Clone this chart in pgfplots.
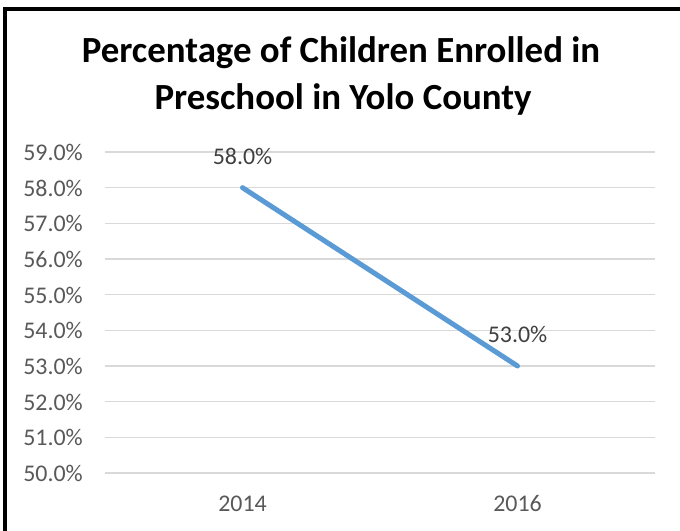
\documentclass[border=0pt]{standalone}
\usepackage{pgfplots}
\pgfplotsset{compat=1.18}
\usepackage{fontspec}
\setmainfont{Carlito}
\definecolor{exblue}{HTML}{5B9BD5}
\definecolor{gridc}{HTML}{D9D9D9}
\definecolor{tickc}{HTML}{595959}
\definecolor{labc}{HTML}{404040}
\begin{document}
\begin{tikzpicture}[x=1bp,y=1bp]
\useasboundingbox (0,0) rectangle (680,531);
\fill[white] (0,0) rectangle (680,531);
\draw[line width=4bp, line join=miter] (5,0) |- (680,522);
\node[anchor=base, font=\bfseries\fontsize{37}{44}\selectfont] at (341,468) {Percentage of Children Enrolled in};
\node[anchor=base, font=\bfseries\fontsize{37}{44}\selectfont] at (343,421) {Preschool in Yolo County};
\begin{axis}[
  at={(105bp,58bp)}, anchor=south west,
  scale only axis, width=550bp, height=321bp,
  xmin=-0.5, xmax=1.5, ymin=50, ymax=59,
  xtick={0,1}, xticklabels={2014,2016},
  ytick={50,51,...,59},
  ymajorgrids, grid style={gridc, line width=1.5bp},
  axis line style={draw=none}, major tick length=0pt,
  /pgf/number format/assume math mode=true,
  tick label style={font=\fontsize{24}{29}\selectfont, text=tickc},
  yticklabel={\pgfmathprintnumber[fixed,fixed zerofill,precision=1]{\tick}\%},
  yticklabel style={anchor=base east, inner sep=0pt, xshift=-22bp, yshift=-8.5bp},
  xticklabel style={anchor=base, inner sep=0pt, yshift=-39bp},
  clip=false,
]
\addplot[exblue, line width=5bp, line cap=round, mark=none,
  point meta=y,
  nodes near coords={\pgfmathprintnumber[fixed,fixed zerofill,precision=1,assume math mode=true]{\pgfplotspointmeta}\%},
  every node near coord/.append style={anchor=base, inner sep=0pt, yshift=23bp, text=labc, font=\fontsize{24}{29}\selectfont}
] coordinates {(0,58.0) (1,53.0)};
\end{axis}
\end{tikzpicture}
\end{document}
